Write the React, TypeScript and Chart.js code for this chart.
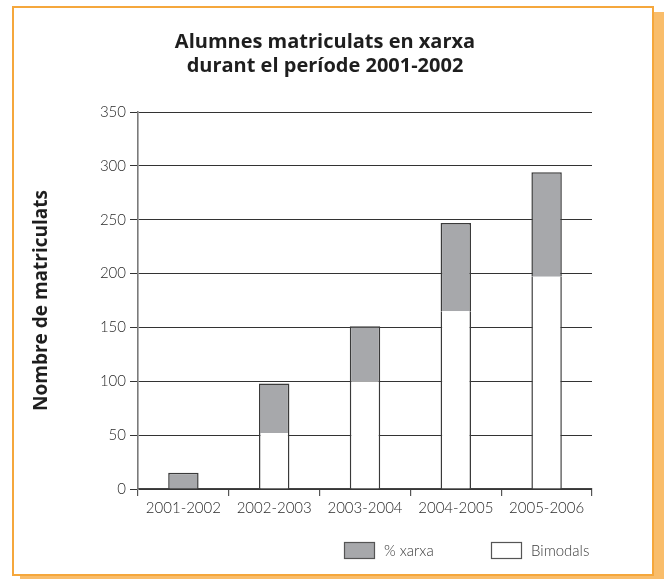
import React, { useEffect, useRef } from "react";
import { Chart, registerables } from "chart.js";

Chart.register(...registerables);

const categories = ["2001-2002", "2002-2003", "2003-2004", "2004-2005", "2005-2006"];
const bimodals = [0, 52, 100, 165, 197];
const xarxa = [15, 46, 51, 82, 97];
const yTicks = [0, 50, 100, 150, 200, 250, 300, 350];
const titleLines = ["Alumnes matriculats en xarxa", "durant el període 2001-2002"];
const yTitle = "Nombre de matriculats";
const legendOrder = [1, 0];

const LIGHT = "Lato, 'Open Sans', sans-serif";
const BOLD = "'Open Sans', Lato, sans-serif";

const framePlugin = {
  id: "frame",
  beforeDraw(chart: any) {
    const ctx = chart.ctx;
    ctx.save();
    ctx.fillStyle = "#F9BD6B";
    ctx.fillRect(20, 12, 644, 567);
    ctx.fillStyle = "#FFFFFF";
    ctx.fillRect(12, 6, 642, 570);
    ctx.strokeStyle = "#F5A73C";
    ctx.lineWidth = 2;
    ctx.strokeRect(13, 7, 640, 568);
    ctx.restore();
  },
};

const legendPlugin = {
  id: "boxLegend",
  afterDraw(chart: any) {
    const ctx = chart.ctx;
    const boxW = 31;
    const boxH = 17;
    const top = 542;
    const starts = [344, 491];
    ctx.save();
    ctx.font = "300 15px " + LIGHT;
    ctx.textBaseline = "middle";
    ctx.textAlign = "left";
    legendOrder.forEach((di, i) => {
      const ds = chart.data.datasets[di];
      const x = starts[i];
      ctx.fillStyle = ds.backgroundColor;
      ctx.fillRect(x, top, boxW, boxH);
      ctx.strokeStyle = "#555";
      ctx.lineWidth = 1.2;
      ctx.strokeRect(x + 0.5, top + 0.5, boxW - 1, boxH - 1);
      ctx.fillStyle = "#3a3a3a";
      ctx.fillText(ds.label, x + boxW + 9, top + boxH / 2 + 0.5);
    });
    ctx.restore();
  },
};

export default function App() {
  const ref = useRef<HTMLCanvasElement | null>(null);

  useEffect(() => {
    if (!ref.current) return;
    const chart = new Chart(ref.current, {
      type: "bar",
      data: {
        labels: categories,
        datasets: [
          {
            label: "Bimodals",
            data: bimodals,
            backgroundColor: "#FFFFFF",
            borderColor: "#3a3a3a",
            borderWidth: { left: 1.5, right: 1.5, top: 0, bottom: 0 },
            borderSkipped: false,
            barPercentage: 0.335,
            categoryPercentage: 1,
          },
          {
            label: "% xarxa",
            data: xarxa,
            backgroundColor: "#A7A8AB",
            borderColor: "#3a3a3a",
            borderWidth: { left: 1.5, right: 1.5, top: 1.5, bottom: 0 },
            borderSkipped: false,
            barPercentage: 0.335,
            categoryPercentage: 1,
          },
        ],
      },
      options: {
        responsive: false,
        animation: false,
        devicePixelRatio: 1,
        layout: { padding: { left: 13, right: 27, top: 6, bottom: 60 } },
        plugins: {
          tooltip: { enabled: false },
          legend: { display: false },
          title: {
            display: true,
            text: titleLines,
            color: "#1e1e1e",
            font: { family: BOLD, size: 20, weight: "bold", lineHeight: 1.2 },
            padding: { top: 24.5, bottom: 33.5 },
          },
        },
        scales: {
          x: {
            stacked: true,
            offset: true,
            grid: {
              display: true,
              offset: true,
              drawOnChartArea: false,
              drawTicks: true,
              tickLength: 7,
              color: "#555",
              lineWidth: 1.2,
            },
            border: { display: true, color: "#444", width: 1.2 },
            ticks: {
              color: "#2a2a2a",
              padding: 3,
              font: { family: LIGHT, size: 15, weight: "300" },
              maxRotation: 0,
              autoSkip: false,
            },
            afterFit: (s: any) => {
              s.height = 30;
            },
          },
          y: {
            stacked: true,
            min: 0,
            max: 350,
            z: 1,
            afterBuildTicks: (s: any) => {
              s.ticks = yTicks.map((v) => ({ value: v }));
            },
            grid: {
              color: "#333",
              lineWidth: 1,
              tickLength: 8,
              drawTicks: true,
            },
            border: { display: true, color: "#7a7a7a", width: 1.6 },
            ticks: {
              color: "#2a2a2a",
              padding: 4,
              font: { family: LIGHT, size: 15, weight: "300" },
            },
            title: {
              display: true,
              text: yTitle,
              color: "#1e1e1e",
              font: { family: BOLD, size: 19, weight: "bold", lineHeight: 1.2 },
              padding: { top: 17, bottom: 0 },
            },
            afterFit: (s: any) => {
              s.width = 125;
            },
          },
          yR: {
            position: "right",
            display: true,
            grid: { display: false },
            border: { display: false },
            ticks: { display: false },
            afterFit: (s: any) => {
              s.width = 45;
            },
          },
        },
      } as any,
      plugins: [framePlugin, legendPlugin],
    });
    return () => chart.destroy();
  }, []);

  return (
    <div style={{ position: "absolute", left: 0, top: 0, width: 664, height: 579 }}>
      <canvas ref={ref} width={664} height={579} style={{ display: "block" }} />
    </div>
  );
}
